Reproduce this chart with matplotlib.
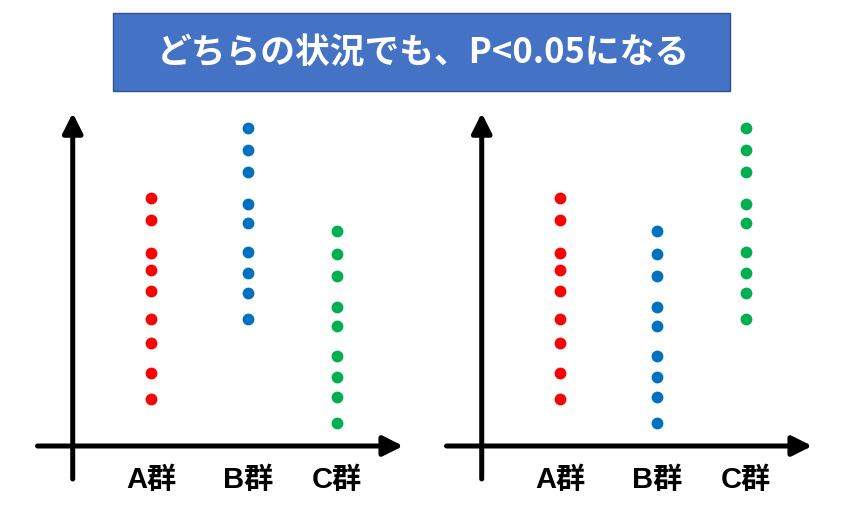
import matplotlib
matplotlib.use("Agg")
import matplotlib.pyplot as plt
from matplotlib.patches import Rectangle

plt.rcParams['font.family'] = ['Noto Sans CJK JP', 'DejaVu Sans']

# データ（縦軸の値、目盛りなしの任意単位）
groups = ['A群', 'B群', 'C群']
left_a = [24.8, 22.6, 19.3, 17.6, 15.5, 12.7, 10.3, 7.3, 4.7]
left_b = [31.8, 29.6, 27.4, 24.2, 22.3, 19.4, 17.3, 15.3, 12.7]
left_c = [21.5, 19.2, 17.0, 13.9, 12.0, 9.0, 6.9, 4.9, 2.3]
right_a = [24.8, 22.6, 19.3, 17.6, 15.5, 12.7, 10.3, 7.3, 4.7]
right_b = [21.5, 19.2, 17.0, 13.9, 12.0, 9.0, 6.9, 4.9, 2.3]
right_c = [31.8, 29.6, 27.4, 24.2, 22.3, 19.4, 17.3, 15.3, 12.7]
title = 'どちらの状況でも、P<0.05になる'

colors = ['#FF0000', '#0070C0', '#00B050']
xpos = [0, 1, 1.92]

W, H = 859, 507
fig = plt.figure(figsize=(W / 100, H / 100), dpi=100)


def panel(left_px, xlim, series):
    ax = fig.add_axes([left_px / W, (H - 500) / H, 400 / W, 400 / H])
    ax.set_xlim(*xlim)
    ax.set_ylim(-5.4, 34.6)
    ax.axis('off')
    for x, vals, c in zip(xpos, series, colors):
        ax.plot([x] * len(vals), vals, 'o', color=c, ms=8.5, mec='none')
    arrow = dict(arrowstyle='-|>', lw=3.6, color='black', mutation_scale=30,
                 shrinkA=0, shrinkB=0)
    ax.annotate('', xy=(-0.807, 33.3), xytext=(-0.807, -3.3), arrowprops=arrow)
    ax.annotate('', xy=(2.60, 0), xytext=(-1.17, 0), arrowprops=arrow)
    for x, g in zip(xpos, groups):
        ax.text(x, -3.4, g, ha='center', va='center', fontsize=21,
                fontweight='bold',
                family=['Liberation Sans', 'Noto Sans CJK JP'])
    return ax


panel(20, ((20 - 151) / 97, (420 - 151) / 97), [left_a, left_b, left_c])
panel(430, ((430 - 560) / 97, (830 - 560) / 97), [right_a, right_b, right_c])

# タイトルの枠
fig.patches.append(Rectangle((113 / W, 1 - 91 / H), 617 / W, 78 / H,
                             transform=fig.transFigure, facecolor='#4472C4',
                             edgecolor='#2F528F', lw=1))
fig.text(423 / W, 1 - 52 / H, title, ha='center', va='center',
         color='white', fontsize=25, fontweight='bold')

fig.savefig('out.png', dpi=100)
